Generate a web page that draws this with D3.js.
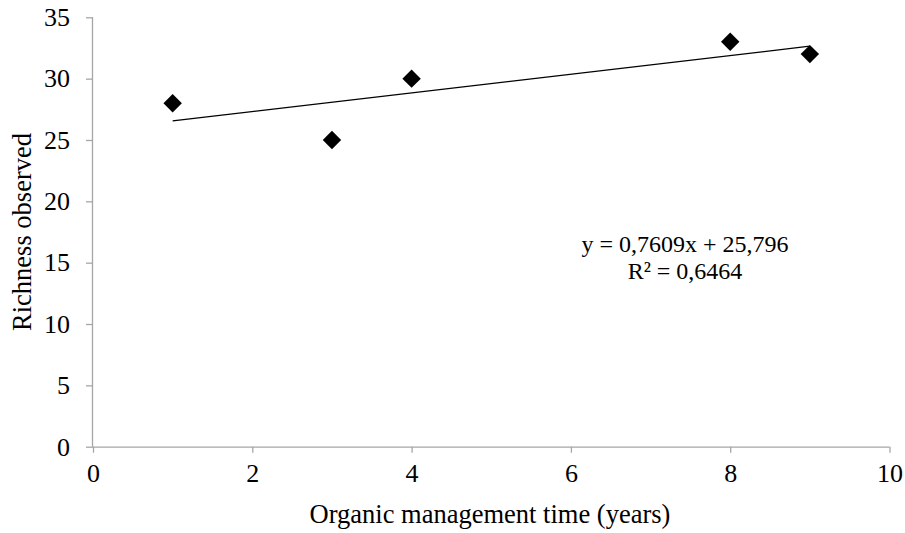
<!DOCTYPE html>
<html><head><meta charset="utf-8">
<script src="https://cdn.jsdelivr.net/npm/d3@7"></script>
<style>body{margin:0;background:#fff}svg{display:block}text{font-family:"Liberation Serif","Times New Roman",serif;fill:#000}</style>
</head><body><svg id="c" width="905" height="533"></svg>
<script>
const xs = [1, 3, 4, 8, 9];
const ys = [28, 25, 30, 33, 32];
const xTicks = [0, 2, 4, 6, 8, 10];
const yTicks = [0, 5, 10, 15, 20, 25, 30, 35];
const slope = 0.7609, intercept = 25.796;
const trendX = [1, 9];
const eqLines = ["y = 0,7609x + 25,796", "R\u00b2 = 0,6464"];
const xTitle = "Organic management time (years)";
const yTitle = "Richness observed";

const svg = d3.select("#c");
const x = d3.scaleLinear().domain([0, 10]).range([93, 889.5]);
const y = d3.scaleLinear().domain([0, 35]).range([446.7, 17.3]);
const axisColor = "#a6a6a6";
const tickFs = 26, titleFs = 26.5, eqFs = 24;

const gx = svg.append("g").attr("transform", `translate(0,${y(0)})`)
  .call(d3.axisBottom(x).tickValues(xTicks).tickSize(6).tickPadding(11).tickFormat(d3.format("d")));
const gy = svg.append("g").attr("transform", `translate(${x(0)},0)`)
  .call(d3.axisLeft(y).tickValues(yTicks).tickSize(7).tickPadding(16).tickFormat(d3.format("d")));
[gx, gy].forEach(g => {
  g.attr("font-family", null).attr("font-size", null);
  g.selectAll("path,line").attr("stroke", axisColor).attr("stroke-width", 1.3);
  g.selectAll("text").style("font-size", tickFs + "px");
});
gx.selectAll("path").attr("d", `M${x(0)},0.5H${x(10)}`);
gy.selectAll("path").attr("d", `M-0.5,${y(0)}V${y(35)}`);

svg.append("line")
  .attr("x1", x(trendX[0])).attr("y1", y(slope * trendX[0] + intercept))
  .attr("x2", x(trendX[1])).attr("y2", y(slope * trendX[1] + intercept))
  .attr("stroke", "#000").attr("stroke-width", 1.3);

const sym = d3.symbol().type(d3.symbolSquare).size(170);
svg.selectAll("path.pt").data(xs).join("path").attr("class", "pt")
  .attr("d", sym)
  .attr("transform", (d, i) => `translate(${x(d)},${y(ys[i])}) rotate(45)`)
  .attr("fill", "#000");

svg.append("text").attr("x", 685).attr("y", 252).attr("text-anchor", "middle")
  .style("font-size", eqFs + "px").text(eqLines[0]);
svg.append("text").attr("x", 685).attr("y", 279).attr("text-anchor", "middle")
  .style("font-size", eqFs + "px").text(eqLines[1]);

svg.append("text").attr("x", 490).attr("y", 523).attr("text-anchor", "middle")
  .style("font-size", titleFs + "px").text(xTitle);
svg.append("text").attr("transform", `translate(31,${232}) rotate(-90)`).attr("text-anchor", "middle")
  .style("font-size", titleFs + "px").text(yTitle);
</script></body></html>
